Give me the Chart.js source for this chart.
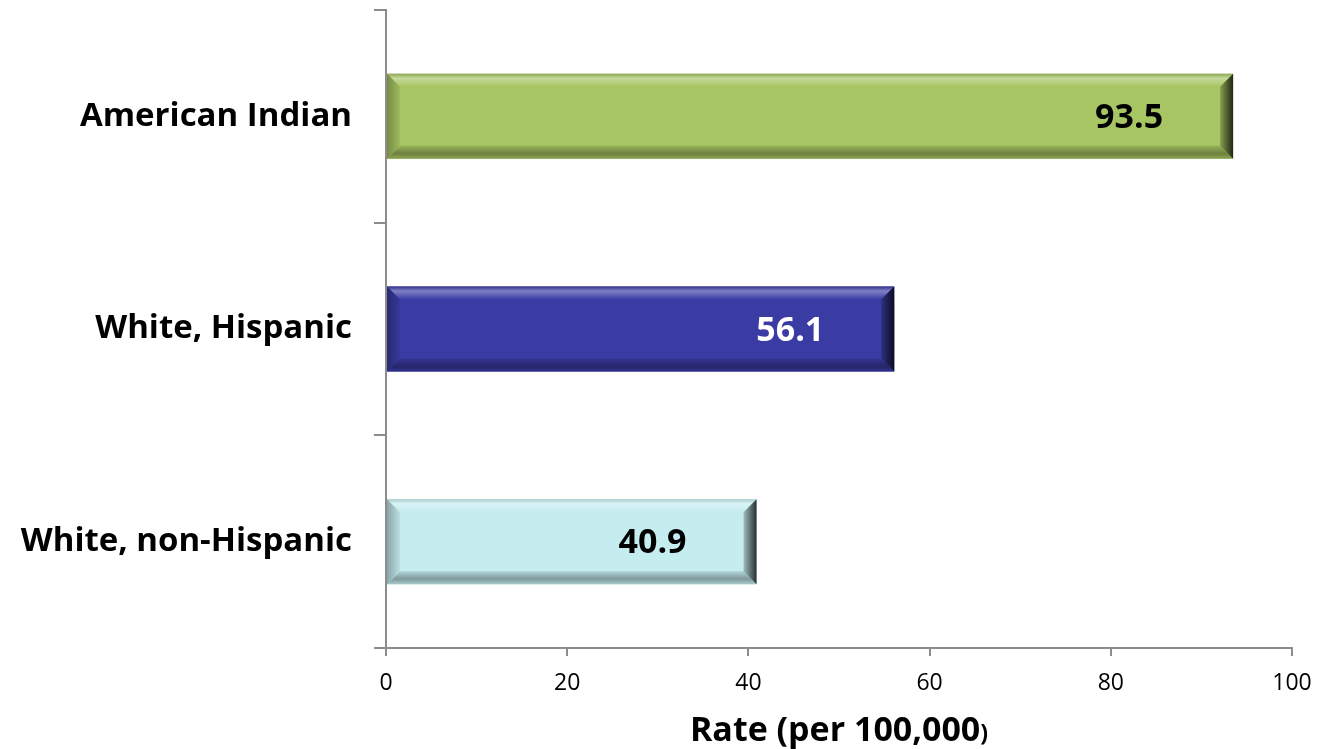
<!DOCTYPE html>
<html>
<head>
<meta charset="utf-8">
<script src="https://cdn.jsdelivr.net/npm/chart.js@4/dist/chart.umd.min.js"></script>
<style>
  html, body { margin: 0; padding: 0; background: #fff; }
  #wrap { width: 1321px; height: 749px; }
</style>
</head>
<body>
<div id="wrap"><canvas id="myChart" width="1321" height="749"></canvas></div>
<script>
'use strict';

// chart data
let categories = ['American Indian', 'White, Hispanic', 'White, non-Hispanic'];
let rates = [93.5, 56.1, 40.9];
let barColors = ['#a7c563', '#3a3ba3', '#c5ecef'];
let labelColors = ['#000000', '#ffffff', '#000000'];
let xTicks = [0, 20, 40, 60, 80, 100];
let axisTitle = 'Rate (per 100,000';

// shade a hex colour, amt > 0 lighter, < 0 darker
function shade(hex, amt) {
  let n = parseInt(hex.slice(1), 16);
  let r = n >> 16, g = (n >> 8) & 255, b = n & 255;
  function f(c) {
    return Math.round(amt > 0 ? c + (255 - c) * amt : c * (1 + amt));
  }
  return `rgb(${f(r)},${f(g)},${f(b)})`;
}

// bevel look on bars
const bevelPlugin = {
  id: 'bevel',
  afterDatasetsDraw(chart) {
    let ctx = chart.ctx;
    let meta = chart.getDatasetMeta(0);
    meta.data.forEach((bar, i) => {
      let p = bar.getProps(['x', 'y', 'base', 'height'], true);
      let x0 = p.base, x1 = p.x;
      let y0 = p.y - p.height / 2, y1 = p.y + p.height / 2;
      let b = 13;
      let c = barColors[i];
      ctx.save();
      // top
      let gt = ctx.createLinearGradient(0, y0, 0, y0 + b);
      gt.addColorStop(0, shade(c, -0.15));
      gt.addColorStop(0.35, shade(c, 0.35));
      gt.addColorStop(1, c);
      ctx.fillStyle = gt;
      ctx.beginPath();
      ctx.moveTo(x0, y0); ctx.lineTo(x1, y0); ctx.lineTo(x1 - b, y0 + b); ctx.lineTo(x0 + b, y0 + b);
      ctx.closePath(); ctx.fill();
      // bottom
      let gb = ctx.createLinearGradient(0, y1 - b, 0, y1);
      gb.addColorStop(0, shade(c, -0.1));
      gb.addColorStop(0.6, shade(c, -0.35));
      gb.addColorStop(1, shade(c, -0.15));
      ctx.fillStyle = gb;
      ctx.beginPath();
      ctx.moveTo(x0, y1); ctx.lineTo(x1, y1); ctx.lineTo(x1 - b, y1 - b); ctx.lineTo(x0 + b, y1 - b);
      ctx.closePath(); ctx.fill();
      // left
      let gl = ctx.createLinearGradient(x0, 0, x0 + b, 0);
      gl.addColorStop(0, shade(c, -0.3));
      gl.addColorStop(1, shade(c, -0.05));
      ctx.fillStyle = gl;
      ctx.beginPath();
      ctx.moveTo(x0, y0); ctx.lineTo(x0 + b, y0 + b); ctx.lineTo(x0 + b, y1 - b); ctx.lineTo(x0, y1);
      ctx.closePath(); ctx.fill();
      // right end
      let g = ctx.createLinearGradient(x1 - b, 0, x1, 0);
      g.addColorStop(0, shade(c, -0.2));
      g.addColorStop(1, shade(c, -0.8));
      ctx.fillStyle = g;
      ctx.beginPath();
      ctx.moveTo(x1, y0); ctx.lineTo(x1 - b, y0 + b); ctx.lineTo(x1 - b, y1 - b); ctx.lineTo(x1, y1);
      ctx.closePath(); ctx.fill();
      ctx.restore();
    });
  }
};

// value labels inside bar ends
const valuePlugin = {
  id: 'values',
  afterDatasetsDraw(chart) {
    let ctx = chart.ctx;
    let meta = chart.getDatasetMeta(0);
    ctx.save();
    ctx.font = 'bold 34px "Open Sans"';
    ctx.textAlign = 'center';
    ctx.textBaseline = 'middle';
    meta.data.forEach((bar, i) => {
      ctx.fillStyle = labelColors[i];
      ctx.fillText(rates[i].toFixed(1), bar.x - 104, bar.y + 2);
    });
    ctx.restore();
  }
};

// axis title with small closing paren
const titlePlugin = {
  id: 'axisTitle',
  afterDraw(chart) {
    let ctx = chart.ctx;
    let area = chart.chartArea;
    ctx.save();
    ctx.fillStyle = '#000';
    ctx.textBaseline = 'alphabetic';
    let big = 'bold 34px "Open Sans"';
    let small = 'bold 23px "Open Sans"';
    ctx.font = big;
    let w1 = ctx.measureText(axisTitle).width;
    ctx.font = small;
    let w2 = ctx.measureText(')').width;
    let cx = (area.left + area.right) / 2;
    let x = cx - (w1 + w2) / 2;
    ctx.font = big;
    ctx.textAlign = 'left';
    ctx.fillText(axisTitle, x, 741);
    ctx.font = small;
    ctx.fillText(')', x + w1, 741);
    ctx.restore();
  }
};

let ctx = document.getElementById('myChart').getContext('2d');
let myChart = new Chart(ctx, {
  type: 'bar',
  data: {
    labels: categories,
    datasets: [{
      data: rates,
      backgroundColor: barColors,
      borderWidth: 0,
      categoryPercentage: 1,
      barPercentage: 0.4
    }]
  },
  options: {
    indexAxis: 'y',
    responsive: false,
    animation: false,
    layout: { padding: { top: 10, right: 29, left: 0, bottom: 0 } },
    plugins: {
      legend: { display: false },
      tooltip: { enabled: false }
    },
    scales: {
      x: {
        min: 0,
        max: 100,
        afterBuildTicks(scale) {
          scale.ticks = xTicks.map(v => ({ value: v }));
        },
        afterFit(scale) {
          scale.height = 101;
          scale.paddingLeft = 0;
          scale.paddingRight = 0;
        },
        border: { color: '#8c8c8c', width: 2 },
        grid: { drawOnChartArea: false, tickLength: 8, color: '#8c8c8c', lineWidth: 2 },
        ticks: { color: '#000', font: { family: 'Open Sans', size: 23 }, padding: 14 }
      },
      y: {
        afterFit(scale) {
          scale.width = 386;
          scale.paddingTop = 0;
          scale.paddingBottom = 0;
        },
        border: { color: '#8c8c8c', width: 2 },
        grid: { drawOnChartArea: false, tickLength: 12, color: '#8c8c8c', lineWidth: 2, offset: true },
        ticks: { color: '#000', font: { family: 'Open Sans', size: 33, weight: 'bold' }, padding: 22 }
      }
    }
  },
  plugins: [bevelPlugin, valuePlugin, titlePlugin]
});
</script>
</body>
</html>
